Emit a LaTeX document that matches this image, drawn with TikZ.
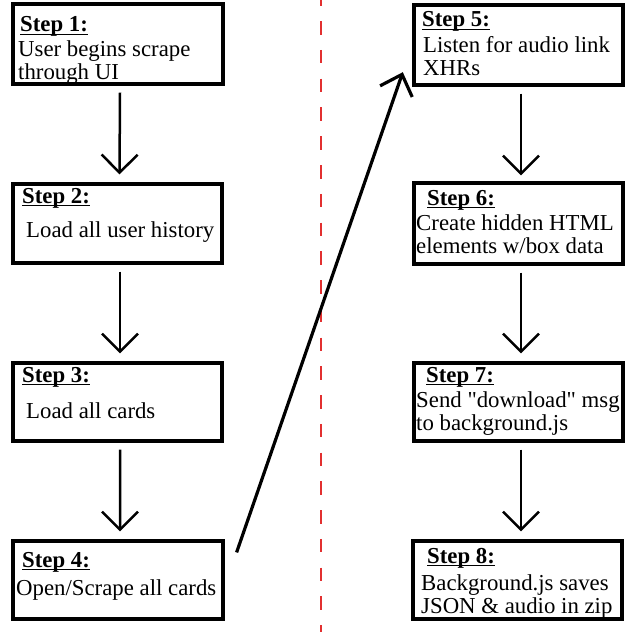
\documentclass[tikz,border=0pt]{standalone}
\usepackage{fontspec}
\setmainfont{Liberation Serif}
\usetikzlibrary{arrows.meta,calc}
\definecolor{dashred}{RGB}{226,48,48}
\newcommand{\stp}[1]{\setbox0\hbox{\textbf{#1}}\rlap{\rule[-3.2bp]{\wd0}{1.6bp}}\box0}
\begin{document}
\begin{tikzpicture}[x=1bp,y=-1bp,
  box/.style={draw, line width=3.2bp, minimum width=209bp, inner sep=0pt},
  lbl/.style={anchor=base west, inner sep=0pt, font=\fontsize{22.8bp}{24bp}\selectfont},
  flow/.style={line width=2.5bp, -{Straight Barb[length=18bp,width=36bp]}},
  jump/.style={line width=3.2bp, -{Straight Barb[length=18bp,width=34bp]}}]
\useasboundingbox (0,0) rectangle (627,632);
% divider
\draw[dashred, line width=2.2bp, dash pattern=on 13.5bp off 15.25bp, dash phase=7.5bp] (321,0) -- (321,632);
% boxes
\node[box, minimum width=210bp, minimum height=80bp] (b1) at (118,44) {};
\node[box, minimum height=79bp] (b2) at (117.5,223.5) {};
\node[box, minimum height=78bp] (b3) at (117.5,402) {};
\node[box, minimum width=210bp, minimum height=78bp] (b4) at (118,580) {};
\node[box, minimum height=80bp] (b5) at (518.5,45) {};
\node[box, minimum height=81bp] (b6) at (518.5,223.5) {};
\node[box, minimum height=78bp] (b7) at (518.5,402) {};
\node[box, minimum height=78bp] (b8) at (517.5,580) {};
% texts
\node[lbl] (s1) at (20,32) {\stp{Step 1:}};
\node[lbl] (s1a) at (18,57) {User begins scrape};
\node[lbl] (s1b) at (18,80) {through UI};
\node[lbl] (s2) at (22,203) {\stp{Step 2:}};
\node[lbl] (s2a) at (26,237) {Load all user history};
\node[lbl] (s3) at (22,382) {\stp{Step 3:}};
\node[lbl] (s3a) at (26,418) {Load all cards};
\node[lbl] (s4) at (22,567) {\stp{Step 4:}};
\node[lbl] (s4a) at (16,595) {Open/Scrape all cards};
\node[lbl] (s5) at (422,27) {\stp{Step 5:}};
\node[lbl] (s5a) at (423,53) {Listen for audio link};
\node[lbl] (s5b) at (423,76) {XHRs};
\node[lbl] (s6) at (427,205) {\stp{Step 6:}};
\node[lbl] (s6a) at (416,230) {Create hidden HTML};
\node[lbl] (s6b) at (416,253) {elements w/box data};
\node[lbl] (s7) at (426,382) {\stp{Step 7:}};
\node[lbl] (s7a) at (416,407) {Send \textquotedbl download\textquotedbl{} msg};
\node[lbl] (s7b) at (416,430) {to background.js};
\node[lbl] (s8) at (427,563) {\stp{Step 8:}};
\node[lbl] (s8a) at (421,590) {Background.js saves};
\node[lbl] (s8b) at (421,613) {JSON \& audio in zip};
% arrows
\draw[flow] ($(b1.south)+(2,7)$) -- ($(b2.north)+(2,-8)$);
\draw[flow] ($(b2.south)+(2.5,7)$) -- ($(b3.north)+(2.5,-8)$);
\draw[flow] ($(b3.south)+(2.5,7)$) -- ($(b4.north)+(2,-8)$);
\draw[flow] ($(b5.south)+(2.5,7)$) -- ($(b6.north)+(2.5,-6)$);
\draw[flow] ($(b6.south)+(2.5,7)$) -- ($(b7.north)+(2.5,-8)$);
\draw[flow] ($(b7.south)+(2.5,7)$) -- ($(b8.north)+(3.5,-8)$);
\draw[jump] ($(b4.north east)+(12,13)$) -- ($(b5.south west)+(-9.6,-14.4)$);
\end{tikzpicture}
\end{document}
